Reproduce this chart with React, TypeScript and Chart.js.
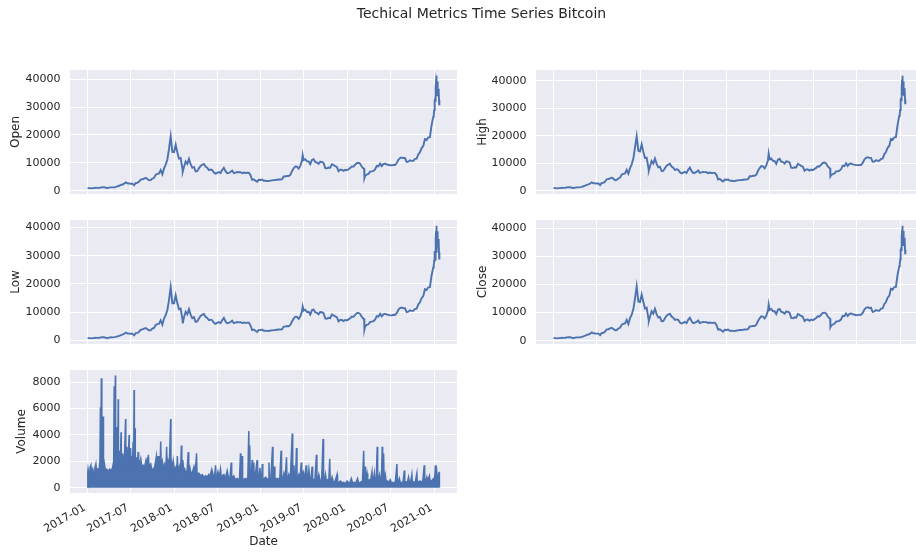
import React, { useEffect, useRef } from "react";
import { Chart, registerables } from "chart.js";

Chart.register(...registerables);

const FONT = "'DejaVu Sans', sans-serif";
const TEXT = "#262626";
const LINE = "#4C72B0";
const FACE = "#EAEAF2";

const CANVAS_W = 930;
const CANVAS_H = 554;
const X_AXIS_H = 59.6;
const WEEK = 7;
const START_UTC = Date.UTC(2017, 0, 1);

const chartTitle = "Techical Metrics Time Series Bitcoin";
const xTickLabels = ["2017-01", "2017-07", "2018-01", "2018-07", "2019-01", "2019-07", "2020-01", "2020-07", "2021-01"];
const priceTicks = [0, 10000, 20000, 30000, 40000];
const volumeTicks = [0, 2000, 4000, 6000, 8000];

// weekly samples, starting 2017-01-01, one every 7 days
const openWeekly = [
  970, 910, 820, 920, 920, 1020, 1000, 1050, 1150, 1270, 1230, 1020, 960, 1090, 1190, 1180, 1240, 1350, 1560, 1760, 2040, 2200, 2520, 2950, 2600, 2560, 2500, 2520, 1950, 2750, 2800, 3250, 4000, 4100, 4350, 4600, 4200, 3700, 3800, 4350, 4600, 5700, 6000, 6150, 7400, 5900, 8000, 9300, 11200, 15000, 19500, 13900, 13800,
  16500, 13800, 11500, 11700, 8200, 8500, 10500, 9600, 11400, 9500, 8200, 8500, 6900, 7000, 8000, 8900, 9300, 9600, 8600, 8200, 7400, 7600, 7400, 6500, 6100, 6400, 6700, 6300, 7400, 8200, 7000, 6300, 6400, 6700, 7200, 6300, 6500, 6700, 6600, 6600, 6300, 6500, 6350, 6400, 6400, 5600, 3900, 4100, 3600, 3200, 3900, 3850,
  4000, 3550, 3550, 3480, 3420, 3620, 3700, 3780, 3800, 3900, 4000, 3980, 4100, 5100, 5100, 5300, 5250, 5700, 7000, 8000, 8700, 8600, 7900, 8900, 10700, 11000, 11300, 10500, 10500, 9500, 11000, 11300, 10300, 10100, 9600, 10400, 10300, 10000, 8100, 8000, 8300, 8200, 9500, 9200, 8800, 8500, 7000, 7500, 7500, 7100, 7500, 7300,
  7700, 8100, 8700, 8600, 9300, 9900, 10000, 9700, 8600, 8000, 5300, 5800, 6000, 6800, 6900, 7100, 7600, 8900, 8700, 9700, 8800, 9500, 9700, 9400, 9300, 9100, 9100, 9250, 9200, 9900, 11100, 11700, 11900, 11700, 11700, 10300, 10400, 10900, 10700, 10700, 11400, 11500, 13000, 13800, 15300, 16000, 18500, 18200, 19100, 19200, 23500, 26500,
];
const highWeekly = [
  1000, 940, 850, 950, 945, 1050, 1030, 1080, 1190, 1300, 1260, 1060, 1000, 1130, 1220, 1210, 1280, 1400, 1620, 1830, 2120, 2300, 2600, 3050, 2700, 2650, 2600, 2600, 2050, 2850, 2900, 3350, 4150, 4250, 4450, 4750, 4350, 3850, 3950, 4450, 4750, 5900, 6150, 6300, 7600, 6200, 8200, 9600, 11700, 15800, 19800, 14500, 14300,
  16900, 14200, 11900, 12000, 8600, 8800, 10800, 9900, 11700, 9800, 8500, 8750, 7150, 7200, 8200, 9100, 9500, 9800, 8800, 8400, 7600, 7800, 7600, 6700, 6300, 6550, 6850, 6450, 7600, 8400, 7200, 6450, 6550, 6850, 7350, 6450, 6650, 6850, 6750, 6700, 6400, 6600, 6450, 6500, 6500, 5800, 4100, 4300, 3750, 3350, 4050, 4000,
  4100, 3650, 3620, 3550, 3480, 3700, 3780, 3850, 3870, 3970, 4080, 4050, 4200, 5250, 5250, 5450, 5400, 5850, 7250, 8250, 8950, 8850, 8150, 9200, 11100, 11400, 11700, 10900, 10800, 9800, 11300, 11600, 10600, 10400, 9900, 10700, 10600, 10300, 8350, 8250, 8550, 8450, 9800, 9450, 9050, 8750, 7250, 7700, 7700, 7300, 7700, 7500,
  7900, 8300, 8900, 8800, 9500, 10100, 10250, 9950, 8850, 8250, 5600, 6050, 6250, 7050, 7100, 7300, 7800, 9150, 8950, 9950, 9050, 9750, 9900, 9600, 9500, 9300, 9300, 9400, 9350, 10100, 11350, 11950, 12150, 11950, 11950, 10550, 10600, 11100, 10900, 10900, 11600, 11700, 13250, 14050, 15600, 16300, 18850, 18550, 19400, 19500, 24000, 27200,
];
const lowWeekly = [
  950, 880, 790, 890, 900, 990, 970, 1020, 1120, 1230, 1190, 980, 920, 1060, 1160, 1150, 1210, 1310, 1500, 1700, 1960, 2100, 2420, 2850, 2500, 2460, 2400, 2440, 1850, 2650, 2720, 3150, 3850, 3950, 4250, 4450, 4050, 3550, 3700, 4250, 4480, 5500, 5800, 5980, 7150, 5600, 7800, 9000, 10800, 14300, 18900, 13200, 13200,
  16000, 13300, 11100, 11300, 7800, 8200, 10200, 9300, 11100, 9200, 7900, 8250, 6650, 6800, 7800, 8700, 9100, 9400, 8400, 8000, 7200, 7400, 7200, 6300, 5900, 6250, 6550, 6150, 7200, 8000, 6800, 6150, 6250, 6550, 7050, 6150, 6350, 6550, 6450, 6500, 6200, 6400, 6250, 6300, 6300, 5400, 3700, 3900, 3450, 3050, 3750, 3700,
  3900, 3450, 3480, 3420, 3370, 3550, 3630, 3710, 3730, 3830, 3920, 3910, 4000, 4950, 4950, 5150, 5100, 5550, 6750, 7750, 8450, 8350, 7650, 8600, 10300, 10600, 10900, 10100, 10200, 9200, 10700, 11000, 10000, 9800, 9300, 10100, 10000, 9700, 7850, 7750, 8050, 7950, 9200, 8950, 8550, 8250, 6800, 7300, 7300, 6900, 7300, 7100,
  7500, 7900, 8500, 8400, 9100, 9700, 9750, 9450, 8350, 7750, 5000, 5550, 5750, 6550, 6700, 6900, 7400, 8650, 8450, 9450, 8550, 9250, 9500, 9200, 9100, 8900, 8900, 9100, 9050, 9700, 10850, 11450, 11650, 11450, 11450, 10050, 10200, 10700, 10500, 10500, 11200, 11300, 12750, 13550, 15000, 15700, 18150, 17850, 18800, 18900, 23000, 25800,
];
const closeWeekly = [
  975, 905, 830, 915, 925, 1025, 1005, 1055, 1160, 1265, 1225, 1015, 965, 1095, 1185, 1185, 1245, 1355, 1570, 1770, 2050, 2210, 2530, 2940, 2610, 2550, 2510, 2510, 1960, 2740, 2810, 3260, 4020, 4090, 4360, 4590, 4190, 3710, 3810, 4360, 4610, 5720, 5990, 6160, 7390, 5920, 8020, 9280, 11250, 15050, 19400, 13950, 13780,
  16450, 13850, 11450, 11750, 8150, 8520, 10480, 9620, 11380, 9480, 8230, 8480, 6920, 6980, 8020, 8880, 9320, 9580, 8620, 8180, 7420, 7580, 7420, 6480, 6120, 6380, 6720, 6280, 7420, 8180, 7020, 6280, 6420, 6680, 7220, 6280, 6520, 6680, 6620, 6580, 6320, 6480, 6360, 6380, 6420, 5580, 3920, 4080, 3620, 3180, 3920, 3830,
  3980, 3560, 3540, 3490, 3410, 3630, 3690, 3790, 3810, 3890, 4010, 3970, 4110, 5090, 5110, 5290, 5260, 5690, 7020, 7980, 8720, 8580, 7920, 8880, 10720, 10980, 11320, 10480, 10520, 9480, 11020, 11280, 10320, 10080, 9620, 10380, 10320, 9980, 8120, 7980, 8320, 8180, 9520, 9180, 8820, 8480, 7020, 7480, 7520, 7080, 7520, 7280,
  7680, 8120, 8680, 8620, 9280, 9920, 9980, 9720, 8580, 8020, 5320, 5780, 6020, 6780, 6920, 7080, 7620, 8880, 8720, 9680, 8820, 9480, 9720, 9380, 9320, 9080, 9120, 9240, 9220, 9880, 11120, 11680, 11920, 11680, 11720, 10280, 10420, 10880, 10720, 10680, 11420, 11480, 13020, 13780, 15320, 15980, 18520, 18180, 19120, 19180, 23520, 26480,
];

// extra samples (days since 2017-01-01) at sharp moves and for Jan 2021
const extraDays = [401, 906, 1165, 1166, 1458, 1460, 1461, 1462, 1463, 1464, 1465, 1466, 1467, 1468, 1469, 1470, 1471, 1472, 1473, 1474, 1475, 1476, 1477, 1478, 1479, 1480, 1481, 1482];
const openExtra = [6900, 12800, 7900, 4500, 27000, 28900, 29000, 29400, 32200, 33000, 31900, 34000, 36800, 39400, 41300, 40200, 38200, 35500, 33900, 37300, 39200, 36800, 36000, 35800, 36600, 35500, 31000, 32500];
const highExtra = [7300, 13500, 8100, 5200, 27800, 29400, 29600, 30000, 33200, 33600, 32600, 34800, 37600, 40500, 41900, 40900, 38800, 36200, 34600, 38000, 39900, 37500, 36700, 36500, 37300, 36300, 31800, 33200];
const lowExtra = [6100, 12000, 7600, 3900, 26300, 28300, 28500, 28900, 31600, 28600, 31200, 33300, 36100, 38900, 40600, 39400, 31000, 34800, 33300, 36700, 38600, 36000, 35300, 35100, 35900, 34800, 29000, 31200];
const closeExtra = [6950, 12900, 7850, 4800, 27100, 28950, 29100, 29300, 32300, 32900, 32000, 34100, 36900, 39500, 41000, 40300, 38100, 35600, 33800, 37400, 39100, 36900, 36100, 35700, 36700, 35400, 31100, 32400];

const volumeDays = [
  0, 1, 2, 6, 10, 14, 17, 22, 27, 31, 35,
  38, 43, 48, 52, 54, 55, 58, 60, 63, 66,
  67, 70, 75, 81, 87, 93, 99, 105, 110, 112,
  113, 117, 118, 120, 122, 124, 127, 129, 130, 134,
  136, 138, 141, 142, 146, 148, 151, 155, 160, 161,
  164, 166, 168, 172, 175, 176, 179, 181, 183, 186,
  189, 192, 194, 196, 197, 200, 201, 204, 207, 210,
  213, 215, 220, 224, 228, 234, 239, 245, 248, 252,
  254, 256, 259, 266, 270, 277, 283, 290, 293, 297,
  300, 302, 305, 308, 310, 315, 320, 325, 330, 333,
  335, 339, 344, 350, 351, 354, 358, 361, 366, 373,
  376, 378, 381, 385, 389, 392, 395, 397, 401, 405,
  409, 414, 419, 424, 426, 431, 436, 442, 448, 453,
  459, 461, 465, 469, 476, 483, 490, 497, 504, 510,
  516, 523, 530, 535, 539, 541, 545, 549, 554, 560,
  563, 568, 574, 580, 588, 594, 600, 605, 607, 612,
  616, 622, 630, 636, 640, 644, 646, 651, 653, 658,
  664, 670, 675, 679, 681, 683, 685, 690, 693, 695,
  700, 702, 707, 714, 716, 720, 726, 729, 733, 736,
  738, 744, 750, 756, 761, 764, 766, 772, 779, 781,
  787, 789, 794, 799, 805, 810, 815, 817, 822, 827,
  832, 838, 840, 844, 848, 854, 862, 864, 869, 872,
  876, 880, 882, 886, 890, 895, 900, 902, 908, 914,
  921, 923, 927, 932, 936, 941, 946, 948, 953, 958,
  964, 966, 970, 974, 980, 986, 992, 994, 998, 1002,
  1006, 1011, 1016, 1020, 1022, 1026, 1030, 1036, 1043, 1051,
  1053, 1058, 1065, 1072, 1079, 1086, 1093, 1100, 1105, 1111,
  1116, 1123, 1130, 1137, 1142, 1148, 1153, 1158, 1163, 1165,
  1169, 1171, 1177, 1180, 1186, 1192, 1198, 1200, 1204, 1208,
  1211, 1216, 1220, 1222, 1226, 1230, 1234, 1238, 1241, 1243,
  1247, 1249, 1254, 1258, 1264, 1270, 1275, 1280, 1286, 1292,
  1297, 1303, 1305, 1309, 1313, 1318, 1324, 1329, 1334, 1336,
  1341, 1347, 1352, 1356, 1361, 1366, 1368, 1373, 1380, 1387,
  1389, 1394, 1400, 1406, 1412, 1418, 1420, 1424, 1429, 1433,
  1440, 1443, 1448, 1453, 1458, 1462, 1465, 1467, 1471, 1474,
  1478, 1481, 1482,
];
const volumeValues = [
  20, 1200, 1400, 900, 1500, 1700, 1100, 1400, 1000, 1500, 1800,
  1200, 1400, 1300, 2000, 6100, 1500, 8300, 1600, 2000, 5400,
  1500, 1900, 1300, 1400, 1200, 1400, 1300, 1500, 2000, 7700,
  2200, 8500, 2500, 1800, 4600, 1900, 2200, 6700, 1900, 2200,
  2800, 1700, 4200, 1800, 2000, 2600, 1700, 2100, 5200, 1800,
  2000, 3100, 1700, 2300, 4000, 1800, 2000, 3000, 1800, 2400,
  1800, 3500, 2000, 7400, 2500, 4500, 2000, 1800, 2300, 1700,
  2700, 1800, 1900, 2200, 1600, 1700, 1500, 2000, 1600, 2300,
  1700, 2500, 1600, 1800, 1400, 1400, 1600, 2400, 1600, 2400,
  1500, 1700, 1400, 3500, 1500, 2000, 1400, 1800, 1500, 3100,
  1500, 2000, 1500, 5200, 1600, 1900, 1400, 2000, 1300, 1600,
  1300, 2400, 1300, 1500, 1700, 1300, 3200, 1400, 2100, 1200,
  1400, 1100, 1300, 2700, 1100, 1500, 1000, 1200, 1600, 1000,
  2600, 1000, 1100, 1100, 900, 1000, 800, 900, 800, 1000,
  900, 1400, 900, 800, 1700, 900, 800, 1200, 800, 1400,
  800, 900, 1000, 700, 1300, 700, 800, 1900, 700, 800,
  900, 600, 700, 600, 700, 2600, 900, 2400, 700, 600,
  700, 600, 800, 4300, 1200, 3200, 900, 1000, 2100, 900,
  1900, 800, 1000, 2100, 800, 700, 1500, 600, 700, 1800,
  600, 700, 800, 600, 700, 1900, 600, 700, 3100, 700,
  1600, 600, 700, 700, 600, 800, 2800, 600, 700, 1100,
  600, 2300, 600, 700, 1000, 700, 4100, 700, 1700, 700,
  800, 3000, 700, 800, 1000, 700, 1900, 800, 1200, 700,
  1700, 600, 700, 1400, 600, 700, 1600, 600, 600, 700,
  2500, 600, 600, 1000, 500, 600, 3700, 600, 500, 1000,
  500, 600, 500, 2200, 500, 500, 800, 400, 500, 1000,
  400, 400, 500, 350, 400, 300, 500, 350, 400, 700,
  350, 400, 350, 700, 350, 400, 450, 500, 2800, 900,
  1600, 600, 1100, 500, 600, 500, 1200, 500, 600, 1100,
  500, 600, 3100, 600, 700, 1000, 500, 600, 3100, 700,
  2600, 600, 1000, 400, 500, 400, 600, 350, 400, 350,
  500, 1800, 400, 450, 700, 350, 400, 450, 1300, 400,
  450, 400, 800, 400, 450, 1000, 400, 450, 400, 1100,
  400, 450, 500, 450, 500, 1700, 500, 450, 800, 500,
  900, 500, 500, 600, 700, 600, 1700, 600, 1200, 600,
  900, 1200, 20,
];

type Pt = { x: number; y: number };
type Area = { left: number; top: number; right: number; bottom: number; axisW: number };

function pricePoints(weekly: number[], extra: number[]): Pt[] {
  const pts: Pt[] = weekly.map((v, i) => ({ x: i * WEEK, y: v }));
  extraDays.forEach((d, i) => pts.push({ x: d, y: extra[i] }));
  pts.sort((a, b) => a.x - b.x);
  return pts;
}

function tickDay(label: string): number {
  const [y, m] = label.split("-").map(Number);
  return (Date.UTC(y, m - 1, 1) - START_UTC) / 86400000;
}

const openPts = pricePoints(openWeekly, openExtra);
const highPts = pricePoints(highWeekly, highExtra);
const lowPts = pricePoints(lowWeekly, lowExtra);
const closePts = pricePoints(closeWeekly, closeExtra);
const volumePts: Pt[] = volumeDays.map((d, i) => ({ x: d, y: volumeValues[i] }));

const allDays = [...openPts.map((p) => p.x), ...volumeDays];
const dayMin = Math.min(...allDays);
const dayMax = Math.max(...allDays);
const daySpan = dayMax - dayMin;
const X_MIN = dayMin - daySpan * 0.05;
const X_MAX = dayMax + daySpan * 0.05;
const tickDays = xTickLabels.map(tickDay);

const TICK_SIZE = 11;
const LABEL_SIZE = 12;
const TICK_PAD = 9.5;

const facePlugin = {
  id: "face",
  beforeDraw(chart: any) {
    const { ctx, chartArea } = chart;
    ctx.save();
    ctx.fillStyle = FACE;
    ctx.fillRect(chartArea.left, chartArea.top, chartArea.right - chartArea.left, chartArea.bottom - chartArea.top);
    ctx.restore();
  },
};

// date tick labels rotated 30 degrees, right-aligned at the tick (like autofmt_xdate)
const dateLabelPlugin = {
  id: "dateLabels",
  afterDraw(chart: any) {
    const { ctx, chartArea, scales } = chart;
    const xs = scales.x;
    const ang = (30 * Math.PI) / 180;
    const boxH = TICK_SIZE * 0.97;
    const descent = TICK_SIZE * 0.236;
    ctx.save();
    ctx.font = `${TICK_SIZE}px ${FONT}`;
    ctx.fillStyle = TEXT;
    ctx.textAlign = "right";
    ctx.textBaseline = "alphabetic";
    tickDays.forEach((d, i) => {
      const px = xs.getPixelForValue(d);
      const oy = chartArea.bottom + TICK_PAD + boxH * Math.cos(ang);
      ctx.save();
      ctx.translate(px, oy);
      ctx.rotate(-ang);
      ctx.fillText(xTickLabels[i], 0, -descent);
      ctx.restore();
    });
    ctx.restore();
  },
};

function Panel(props: { points: Pt[]; label: string; area: Area; showX: boolean; yTicks: number[]; filled: boolean }) {
  const { points, label, area, showX, yTicks, filled } = props;
  const ref = useRef<HTMLCanvasElement>(null);
  useEffect(() => {
    const canvas = ref.current;
    if (!canvas) return;
    const ys = points.map((p) => p.y);
    const yMin = Math.min(...ys);
    const yMax = Math.max(...ys);
    const yPad = (yMax - yMin) * 0.05;
    const xAxisH = showX ? X_AXIS_H : 0;
    const tickFont = { family: FONT, size: TICK_SIZE };
    const labelFont = { family: FONT, size: LABEL_SIZE };
    const chart = new Chart(canvas, {
      type: "line",
      data: {
        datasets: [
          {
            data: points,
            borderColor: LINE,
            backgroundColor: LINE,
            borderWidth: filled ? 1.5 : 1.9,
            pointRadius: 0,
            fill: filled ? "origin" : false,
            tension: 0,
          },
        ],
      },
      options: {
        responsive: false,
        animation: false,
        events: [],
        layout: {
          padding: {
            left: area.left - area.axisW,
            top: area.top,
            right: CANVAS_W - area.right,
            bottom: CANVAS_H - area.bottom - xAxisH,
          },
        },
        plugins: { legend: { display: false }, tooltip: { enabled: false }, title: { display: false } },
        scales: {
          x: {
            type: "linear",
            min: X_MIN,
            max: X_MAX,
            afterBuildTicks: (s: any) => {
              s.ticks = tickDays.map((v) => ({ value: v }));
            },
            afterFit: (s: any) => {
              s.height = xAxisH;
            },
            ticks: { display: false },
            grid: { color: "#ffffff", lineWidth: 1, drawTicks: false },
            border: { display: false },
            title: { display: showX, text: "Date", color: TEXT, font: labelFont, padding: { top: 4, bottom: 4 } },
          },
          y: {
            type: "linear",
            min: yMin - yPad,
            max: yMax + yPad,
            afterBuildTicks: (s: any) => {
              s.ticks = yTicks.map((v) => ({ value: v }));
            },
            afterFit: (s: any) => {
              s.width = area.axisW;
            },
            ticks: {
              padding: TICK_PAD,
              color: TEXT,
              font: tickFont,
              callback: (v: any) => String(v),
            },
            grid: { color: "#ffffff", lineWidth: 1, drawTicks: false },
            border: { display: false },
            title: { display: true, text: label, color: TEXT, font: labelFont, padding: { top: 4, bottom: 4 } },
          },
        },
      },
      plugins: showX ? [facePlugin, dateLabelPlugin] : [facePlugin],
    } as any);
    return () => chart.destroy();
  }, []);
  return (
    <canvas
      ref={ref}
      width={CANVAS_W}
      height={CANVAS_H}
      style={{ position: "absolute", left: 0, top: 0, width: CANVAS_W, height: CANVAS_H }}
    />
  );
}

export default function App() {
  return (
    <div
      style={{
        position: "absolute",
        left: 0,
        top: 0,
        width: 916,
        height: 554,
        overflow: "hidden",
        background: "#ffffff",
      }}
    >
      <Panel points={openPts} label="Open" area={{ left: 70, top: 70, right: 457, bottom: 194, axisW: 65 }} showX={false} yTicks={priceTicks} filled={false} />
      <Panel points={highPts} label="High" area={{ left: 536, top: 70, right: 923, bottom: 194, axisW: 64.5 }} showX={false} yTicks={priceTicks} filled={false} />
      <Panel points={lowPts} label="Low" area={{ left: 70, top: 220, right: 457, bottom: 344, axisW: 65 }} showX={false} yTicks={priceTicks} filled={false} />
      <Panel points={closePts} label="Close" area={{ left: 536, top: 220, right: 923, bottom: 344, axisW: 64.5 }} showX={false} yTicks={priceTicks} filled={false} />
      <Panel points={volumePts} label="Volume" area={{ left: 70, top: 370, right: 457, bottom: 493, axisW: 59 }} showX={true} yTicks={volumeTicks} filled={true} />
      <div
        style={{
          position: "absolute",
          left: 0,
          top: 4,
          width: 963,
          textAlign: "center",
          fontFamily: FONT,
          fontSize: 14,
          lineHeight: "18px",
          color: TEXT,
        }}
      >
        {chartTitle}
      </div>
    </div>
  );
}
